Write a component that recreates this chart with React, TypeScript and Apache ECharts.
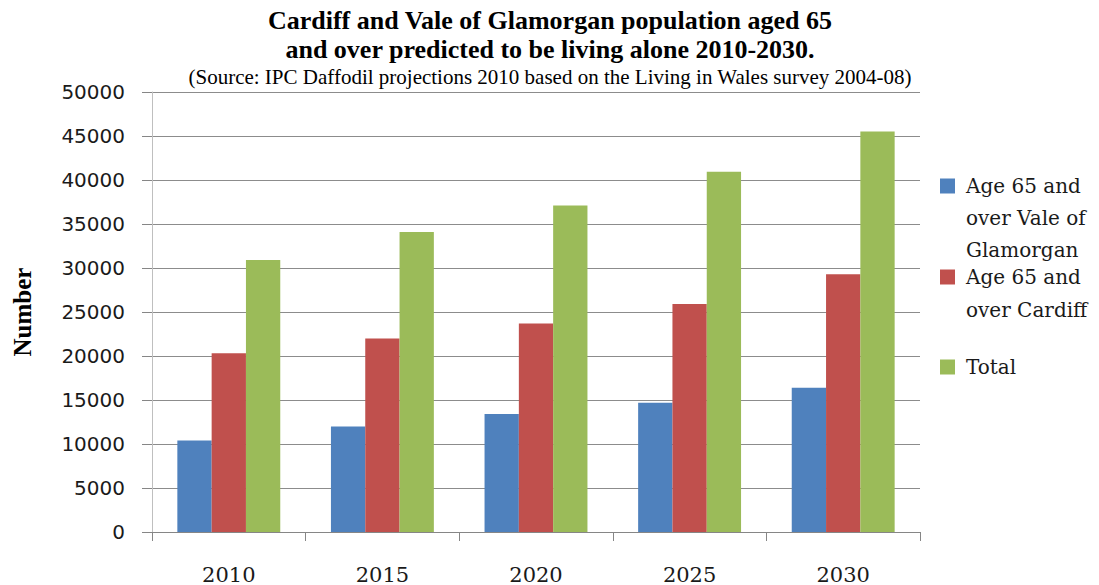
import React, { useEffect, useRef } from "react";
import * as echarts from "echarts";

const years = ["2010", "2015", "2020", "2025", "2030"];
const valeOfGlamorgan = [10400, 12000, 13400, 14700, 16400];
const cardiff = [20300, 22000, 23700, 25900, 29300];
const total = [30900, 34100, 37100, 40950, 45500];
const seriesNames = [
  "Age 65 and over Vale of Glamorgan",
  "Age 65 and over Cardiff",
  "Total",
];
const legendLines: Record<string, string[]> = {
  "Age 65 and over Vale of Glamorgan": ["Age 65 and", "over Vale of", "Glamorgan"],
  "Age 65 and over Cardiff": ["Age 65 and", "over Cardiff"],
  Total: ["Total"],
};
const colors = ["#4F81BD", "#C0504D", "#9BBB59"];

const serif = "DejaVu Serif";
const sans = "DejaVu Sans";

function legendFor(name: string, iconCenter: number, lineHeight: number) {
  const n = legendLines[name].length;
  const totalH = (2 * n - 1) * lineHeight;
  return {
    data: [name],
    left: 940,
    top: iconCenter - totalH / 2,
    orient: "vertical",
    padding: 0,
    itemWidth: 15,
    itemHeight: 15,
    icon: "rect",
    selectedMode: false,
    formatter: (nm: string) => {
      const lines = legendLines[nm];
      const pre: string[] = [];
      for (let i = 0; i < lines.length - 1; i++) pre.push("{e| }");
      return pre.concat(lines.map((l) => `{t|${l}}`)).join("\n");
    },
    textStyle: {
      fontFamily: serif,
      fontSize: 20,
      lineHeight,
      color: "#1a1a1a",
      rich: {
        t: {
          fontFamily: serif,
          fontSize: 20,
          lineHeight,
          color: "#1a1a1a",
          padding: [0, 0, 0, 6],
        },
        e: { fontSize: 20, lineHeight, fontFamily: serif },
      },
    },
  };
}

export default function App() {
  const ref = useRef<HTMLDivElement>(null);
  useEffect(() => {
    if (!ref.current) return;
    const chart = echarts.init(ref.current, null, { renderer: "svg" });
    chart.setOption({
      animation: false,
      backgroundColor: "#ffffff",
      color: colors,
      textStyle: { fontFamily: serif },
      title: {
        text: "Cardiff and Vale of Glamorgan population aged 65\nand over predicted to be living alone 2010-2030.",
        subtext: "(Source: IPC Daffodil projections 2010 based on the Living in Wales survey 2004-08)",
        left: 550,
        textAlign: "center",
        top: 6,
        padding: 0,
        itemGap: 2,
        textStyle: {
          fontFamily: "Liberation Serif",
          fontWeight: "bold",
          fontSize: 26,
          lineHeight: 29,
          color: "#000",
        },
        subtextStyle: {
          fontFamily: "Liberation Serif",
          fontSize: 21,
          lineHeight: 22,
          color: "#000",
        },
      },
      legend: [
        legendFor(seriesNames[0], 186, 32),
        legendFor(seriesNames[1], 277, 33),
        legendFor(seriesNames[2], 367, 32),
      ],
      grid: { left: 152, right: 179, top: 92, bottom: 53 },
      xAxis: {
        type: "category",
        data: years,
        axisLine: { show: true, lineStyle: { color: "#868686", width: 1 } },
        axisTick: { show: true, length: 9, lineStyle: { color: "#868686" } },
        axisLabel: {
          fontFamily: serif,
          fontSize: 21,
          color: "#1a1a1a",
          margin: 32,
        },
      },
      yAxis: {
        type: "value",
        min: 0,
        max: 50000,
        interval: 5000,
        name: "Number",
        nameLocation: "middle",
        nameRotate: 90,
        nameGap: 117,
        nameTextStyle: {
          fontFamily: "Liberation Serif",
          fontWeight: "bold",
          fontSize: 25,
          color: "#000",
        },
        axisLine: { show: true, lineStyle: { color: "#bfbfbf", width: 1 } },
        axisTick: { show: true, inside: false, length: 10, lineStyle: { color: "#868686" } },
        splitLine: { show: true, lineStyle: { color: "#8c8c8c", width: 1 } },
        axisLabel: {
          fontFamily: sans,
          fontSize: 20,
          color: "#1a1a1a",
          margin: 27,
          formatter: (v: number) => String(v),
        },
      },
      series: [
        { name: seriesNames[0], type: "bar", data: valeOfGlamorgan, barGap: "0%", barCategoryGap: "33%" },
        { name: seriesNames[1], type: "bar", data: cardiff, barGap: "0%", barCategoryGap: "33%" },
        { name: seriesNames[2], type: "bar", data: total, barGap: "0%", barCategoryGap: "33%" },
      ],
    });
    return () => chart.dispose();
  }, []);
  return (
    <div
      ref={ref}
      style={{ position: "fixed", left: 0, top: 0, width: 1099, height: 585 }}
    />
  );
}
